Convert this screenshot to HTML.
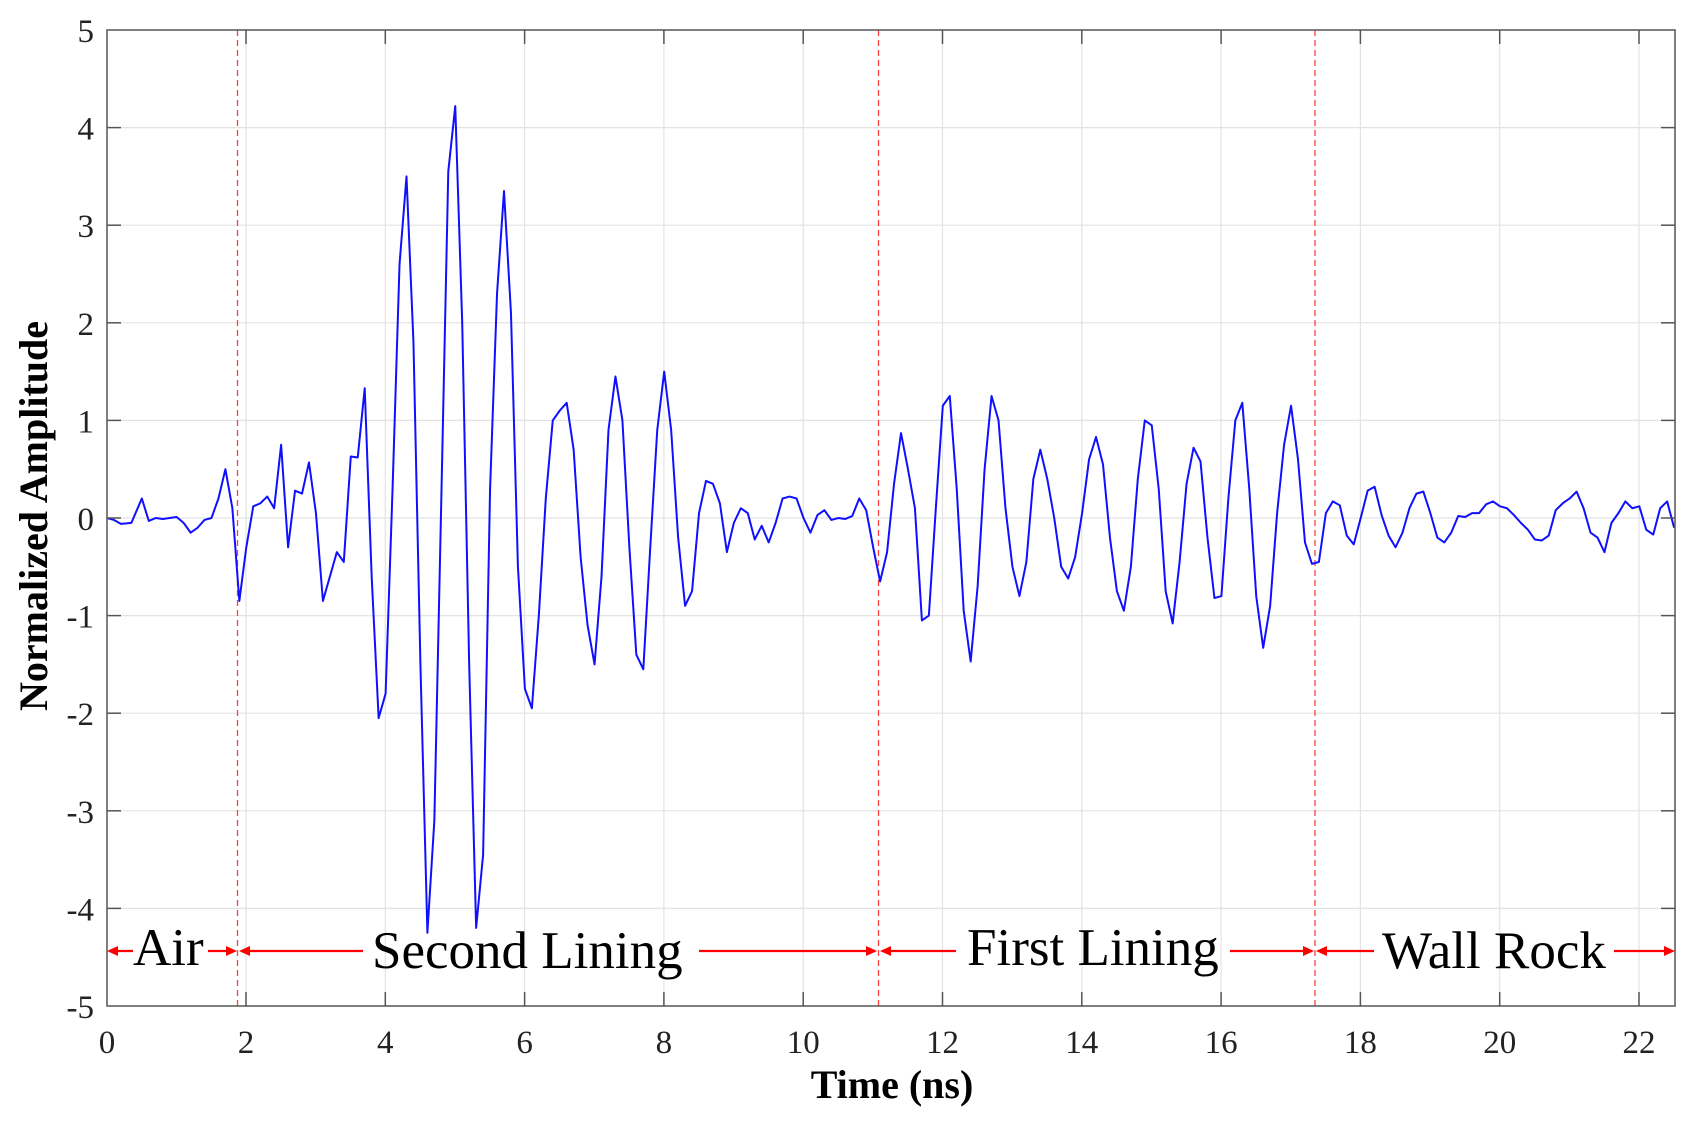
<!DOCTYPE html>
<html><head><meta charset="utf-8"><style>
html,body{margin:0;padding:0;background:#fff;}
svg{display:block;}
text{font-family:"Liberation Serif",serif;}
</style></head><body>
<svg width="1692" height="1121" viewBox="0 0 1692 1121" xmlns="http://www.w3.org/2000/svg">
<rect width="1692" height="1121" fill="#fff"/>
<g stroke="#e3e3e3" stroke-width="1.2">
<line x1="246" y1="30" x2="246" y2="1006"/><line x1="385.3" y1="30" x2="385.3" y2="1006"/><line x1="524.6" y1="30" x2="524.6" y2="1006"/><line x1="663.9" y1="30" x2="663.9" y2="1006"/><line x1="803.2" y1="30" x2="803.2" y2="1006"/><line x1="942.5" y1="30" x2="942.5" y2="1006"/><line x1="1081.8" y1="30" x2="1081.8" y2="1006"/><line x1="1221.1" y1="30" x2="1221.1" y2="1006"/><line x1="1360.4" y1="30" x2="1360.4" y2="1006"/><line x1="1499.7" y1="30" x2="1499.7" y2="1006"/><line x1="1639" y1="30" x2="1639" y2="1006"/>
<line x1="107" y1="127.6" x2="1675" y2="127.6"/><line x1="107" y1="225.2" x2="1675" y2="225.2"/><line x1="107" y1="322.8" x2="1675" y2="322.8"/><line x1="107" y1="420.4" x2="1675" y2="420.4"/><line x1="107" y1="518" x2="1675" y2="518"/><line x1="107" y1="615.6" x2="1675" y2="615.6"/><line x1="107" y1="713.2" x2="1675" y2="713.2"/><line x1="107" y1="810.8" x2="1675" y2="810.8"/><line x1="107" y1="908.4" x2="1675" y2="908.4"/>
</g>
<g stroke="#ff4040" stroke-width="1.3" stroke-dasharray="6,4">
<line x1="237.5" y1="30" x2="237.5" y2="1006"/><line x1="878.5" y1="30" x2="878.5" y2="1006"/><line x1="1315" y1="30" x2="1315" y2="1006"/>
</g>
<g transform="translate(107,518) scale(69.65,-97.6)">
<polyline fill="none" stroke="#1010ff" stroke-width="2" vector-effect="non-scaling-stroke" stroke-linejoin="round" points="0,0 0.1,-0.02 0.2,-0.06 0.35,-0.05 0.5,0.2 0.6,-0.03 0.7,0 0.8,-0.01 1.0,0.01 1.1,-0.05 1.2,-0.15 1.3,-0.1 1.4,-0.02 1.5,0 1.6,0.2 1.7,0.5 1.8,0.1 1.9,-0.85 2.0,-0.3 2.1,0.12 2.2,0.15 2.3,0.22 2.4,0.1 2.5,0.75 2.6,-0.3 2.7,0.28 2.8,0.25 2.9,0.57 3.0,0.05 3.1,-0.85 3.2,-0.6 3.3,-0.35 3.4,-0.45 3.5,0.63 3.6,0.62 3.7,1.33 3.8,-0.6 3.9,-2.05 4.0,-1.8 4.1,0.3 4.2,2.6 4.3,3.5 4.4,1.8 4.5,-1.5 4.6,-4.25 4.7,-3.1 4.8,0.2 4.9,3.55 5.0,4.22 5.1,2.0 5.2,-1.5 5.3,-4.2 5.4,-3.45 5.5,0.3 5.6,2.3 5.7,3.35 5.8,2.1 5.9,-0.5 6.0,-1.75 6.1,-1.95 6.2,-1.0 6.3,0.2 6.4,1.0 6.5,1.1 6.6,1.18 6.7,0.7 6.8,-0.4 6.9,-1.1 7.0,-1.5 7.1,-0.6 7.2,0.9 7.3,1.45 7.4,1.0 7.5,-0.3 7.6,-1.4 7.7,-1.55 7.8,-0.3 7.9,0.9 8.0,1.5 8.1,0.9 8.2,-0.2 8.3,-0.9 8.4,-0.75 8.5,0.05 8.6,0.38 8.7,0.35 8.8,0.15 8.9,-0.35 9.0,-0.05 9.1,0.1 9.2,0.05 9.3,-0.22 9.4,-0.08 9.5,-0.25 9.6,-0.05 9.7,0.2 9.8,0.22 9.9,0.2 10.0,0 10.1,-0.15 10.2,0.03 10.3,0.08 10.4,-0.02 10.5,0 10.6,-0.01 10.7,0.02 10.8,0.2 10.9,0.08 11.0,-0.3 11.1,-0.65 11.2,-0.35 11.3,0.35 11.4,0.87 11.5,0.5 11.6,0.1 11.7,-1.05 11.8,-1.0 11.9,0.1 12.0,1.15 12.1,1.25 12.2,0.3 12.3,-0.95 12.4,-1.47 12.5,-0.7 12.6,0.5 12.7,1.25 12.8,1.0 12.9,0.1 13.0,-0.5 13.1,-0.8 13.2,-0.45 13.3,0.4 13.4,0.7 13.5,0.4 13.6,0 13.7,-0.5 13.8,-0.62 13.9,-0.4 14.0,0.05 14.1,0.6 14.2,0.83 14.3,0.55 14.4,-0.2 14.5,-0.75 14.6,-0.95 14.7,-0.5 14.8,0.4 14.9,1.0 15.0,0.95 15.1,0.3 15.2,-0.75 15.3,-1.08 15.4,-0.45 15.5,0.35 15.6,0.72 15.7,0.58 15.8,-0.2 15.9,-0.82 16.0,-0.8 16.1,0.2 16.2,1.0 16.3,1.18 16.4,0.3 16.5,-0.8 16.6,-1.33 16.7,-0.9 16.8,0.05 16.9,0.75 17.0,1.15 17.1,0.6 17.2,-0.25 17.3,-0.47 17.4,-0.45 17.5,0.05 17.6,0.17 17.7,0.13 17.8,-0.18 17.9,-0.27 18.0,0 18.1,0.28 18.2,0.32 18.3,0.03 18.4,-0.18 18.5,-0.3 18.6,-0.15 18.7,0.1 18.8,0.25 18.9,0.27 19.0,0.05 19.1,-0.2 19.2,-0.25 19.3,-0.15 19.4,0.02 19.5,0.01 19.6,0.05 19.7,0.05 19.8,0.14 19.9,0.17 20.0,0.12 20.1,0.1 20.2,0.03 20.3,-0.05 20.4,-0.12 20.5,-0.22 20.6,-0.23 20.7,-0.18 20.8,0.08 20.9,0.15 21.0,0.2 21.1,0.27 21.2,0.1 21.3,-0.15 21.4,-0.2 21.5,-0.35 21.6,-0.05 21.7,0.05 21.8,0.17 21.9,0.1 22.0,0.12 22.1,-0.12 22.2,-0.17 22.3,0.1 22.4,0.17 22.5,-0.1"/>
</g>
<rect x="107" y="30" width="1568" height="976" fill="none" stroke="#555" stroke-width="1.5"/>
<g stroke="#555" stroke-width="1.5">
<line x1="246" y1="1006" x2="246" y2="992"/><line x1="385.3" y1="1006" x2="385.3" y2="992"/><line x1="524.6" y1="1006" x2="524.6" y2="992"/><line x1="663.9" y1="1006" x2="663.9" y2="992"/><line x1="803.2" y1="1006" x2="803.2" y2="992"/><line x1="942.5" y1="1006" x2="942.5" y2="992"/><line x1="1081.8" y1="1006" x2="1081.8" y2="992"/><line x1="1221.1" y1="1006" x2="1221.1" y2="992"/><line x1="1360.4" y1="1006" x2="1360.4" y2="992"/><line x1="1499.7" y1="1006" x2="1499.7" y2="992"/><line x1="1639" y1="1006" x2="1639" y2="992"/>
<line x1="246" y1="30" x2="246" y2="44"/><line x1="385.3" y1="30" x2="385.3" y2="44"/><line x1="524.6" y1="30" x2="524.6" y2="44"/><line x1="663.9" y1="30" x2="663.9" y2="44"/><line x1="803.2" y1="30" x2="803.2" y2="44"/><line x1="942.5" y1="30" x2="942.5" y2="44"/><line x1="1081.8" y1="30" x2="1081.8" y2="44"/><line x1="1221.1" y1="30" x2="1221.1" y2="44"/><line x1="1360.4" y1="30" x2="1360.4" y2="44"/><line x1="1499.7" y1="30" x2="1499.7" y2="44"/><line x1="1639" y1="30" x2="1639" y2="44"/>
<line x1="107" y1="127.6" x2="121" y2="127.6"/><line x1="107" y1="225.2" x2="121" y2="225.2"/><line x1="107" y1="322.8" x2="121" y2="322.8"/><line x1="107" y1="420.4" x2="121" y2="420.4"/><line x1="107" y1="518" x2="121" y2="518"/><line x1="107" y1="615.6" x2="121" y2="615.6"/><line x1="107" y1="713.2" x2="121" y2="713.2"/><line x1="107" y1="810.8" x2="121" y2="810.8"/><line x1="107" y1="908.4" x2="121" y2="908.4"/>
<line x1="1675" y1="127.6" x2="1661" y2="127.6"/><line x1="1675" y1="225.2" x2="1661" y2="225.2"/><line x1="1675" y1="322.8" x2="1661" y2="322.8"/><line x1="1675" y1="420.4" x2="1661" y2="420.4"/><line x1="1675" y1="518" x2="1661" y2="518"/><line x1="1675" y1="615.6" x2="1661" y2="615.6"/><line x1="1675" y1="713.2" x2="1661" y2="713.2"/><line x1="1675" y1="810.8" x2="1661" y2="810.8"/><line x1="1675" y1="908.4" x2="1661" y2="908.4"/>
</g>
<g font-size="33" fill="#222" text-anchor="middle">
<text x="107" y="1053">0</text><text x="246" y="1053">2</text><text x="385.3" y="1053">4</text><text x="524.6" y="1053">6</text><text x="663.9" y="1053">8</text><text x="803.2" y="1053">10</text><text x="942.5" y="1053">12</text><text x="1081.8" y="1053">14</text><text x="1221.1" y="1053">16</text><text x="1360.4" y="1053">18</text><text x="1499.7" y="1053">20</text><text x="1639" y="1053">22</text>
</g>
<g font-size="33" fill="#222" text-anchor="end">
<text x="94" y="42">5</text><text x="94" y="139.6">4</text><text x="94" y="237.2">3</text><text x="94" y="334.8">2</text><text x="94" y="432.4">1</text><text x="94" y="530">0</text><text x="94" y="627.6">-1</text><text x="94" y="725.2">-2</text><text x="94" y="822.8">-3</text><text x="94" y="920.4">-4</text><text x="94" y="1018">-5</text>
</g>
<text x="892" y="1098" font-size="40" font-weight="bold" text-anchor="middle" fill="#000">Time (ns)</text>
<text transform="translate(47,516) rotate(-90)" font-size="40" font-weight="bold" text-anchor="middle" fill="#000">Normalized Amplitude</text>
<g stroke="#ff0000" stroke-width="2.2">
<line x1="110" y1="951" x2="133" y2="951"/><line x1="208" y1="951" x2="234" y2="951"/>
<line x1="241" y1="951" x2="363" y2="951"/><line x1="699" y1="951" x2="875" y2="951"/>
<line x1="882" y1="951" x2="956" y2="951"/><line x1="1230" y1="951" x2="1312" y2="951"/>
<line x1="1318" y1="951" x2="1374" y2="951"/><line x1="1614" y1="951" x2="1672" y2="951"/>
</g>
<g fill="#ff0000">
<polygon points="107,951 118,946 118,956"/><polygon points="237,951 226,946 226,956"/>
<polygon points="239,951 250,946 250,956"/><polygon points="877,951 866,946 866,956"/>
<polygon points="880,951 891,946 891,956"/><polygon points="1314,951 1303,946 1303,956"/>
<polygon points="1316,951 1327,946 1327,956"/><polygon points="1675,951 1664,946 1664,956"/>
</g>
<g font-size="53" fill="#000">
<text x="133" y="965">Air</text>
<text x="372" y="968">Second Lining</text>
<text x="967" y="965">First Lining</text>
<text x="1382" y="968">Wall Rock</text>
</g>
</svg>
</body></html>
